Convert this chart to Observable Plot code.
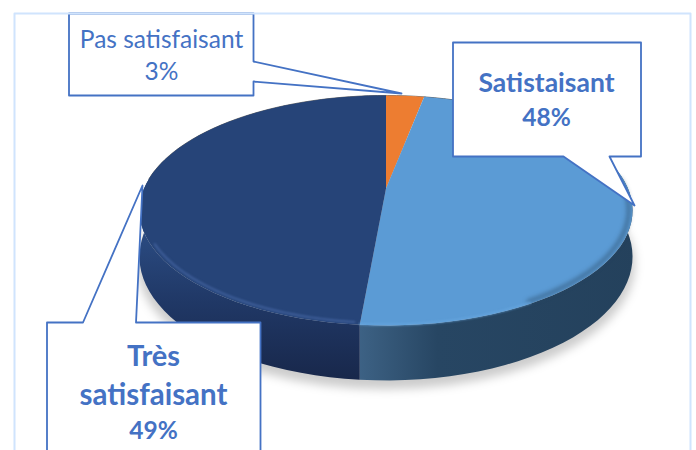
<!DOCTYPE html>
<html><head><meta charset="utf-8">
<script src="https://cdn.jsdelivr.net/npm/d3@7"></script>
<script src="https://cdn.jsdelivr.net/npm/@observablehq/plot@0.6"></script>
<style>html,body{margin:0;padding:0;background:#fff;overflow:hidden}svg{display:block}</style>
</head><body><div id="chart"></div>
<script>
// Data
const categories = ["Pas satisfaisant", "Satistaisant", "Très satisfaisant"];
const values = [3, 48.4, 48.6];
const percentLabels = ["3%", "48%", "49%"];
const sliceColors = ["#ed7d31", "#5b9bd5", "#264478"];

// Disc projection (perspective view of a circle)
const cx = 385.5, cy = 188, R = 242, S = 110.8, K = -0.191, DEPTH = 44.5;
const rim = (t, r = 1, depth = 0) => {
  const u = r * Math.sin(t), v = -r * Math.cos(t), w = 1 + K * v;
  return {x: cx + R * u / w, y: cy + (S * v + depth) / w};
};
const total = d3.sum(values);
const cumulative = d3.cumsum(values);
const angles = values.map((_, i) => [(i ? cumulative[i - 1] : 0) / total * 2 * Math.PI, cumulative[i] / total * 2 * Math.PI]);
const arc = ([a, b], r, depth) => d3.range(0, 61).map(i => rim(a + (b - a) * i / 60, r, depth));
const facePts = r => categories.flatMap((name, i) => [{...rim(0, 0), name}, ...arc(angles[i], r, 0).map(p => ({...p, name}))]);
const sidePts = i => [...arc(angles[i], 1, 0), ...arc(angles[i], 1, DEPTH).reverse()];
const ring = (depth, dy = 0) => arc([0, 2 * Math.PI], 1.01, depth).map(p => ({x: p.x, y: p.y + dy}));
const deg = d => d * Math.PI / 180;

// Callout layout
const callouts = [
  {name: "a", pts: [[68.5, 13], [253, 13], [253, 61], [401, 93], [253, 81], [253, 95], [68.5, 95]]},
  {name: "b", pts: [[452.5, 42], [640.5, 42], [640.5, 156], [609, 156], [634, 205], [563, 156], [452.5, 156]]},
  {name: "c", pts: [[46.5, 322], [82.5, 322], [142, 185], [135.5, 322], [260, 322], [260, 470], [46.5, 470]]}
];
const calloutPts = callouts.flatMap(c => c.pts.map(([x, y]) => ({x, y, name: c.name})));
const frame = [[14, 13], [690, 13], [690, 480], [14, 480]].map(([x, y]) => ({x, y}));
const regularRows = [
  {text: categories[0], x: 161, y: 47},
  {text: percentLabels[0], x: 161, y: 79}
];
const boldRows = [
  {text: categories[1], x: 546, y: 91, size: 26.5},
  {text: percentLabels[1], x: 546, y: 125, size: 24.5},
  {text: "Très", x: 153, y: 365, size: 29},
  {text: "satisfaisant", x: 153, y: 404, size: 29.5},
  {text: percentLabels[2], x: 153, y: 438, size: 24.5}
];

const defs = () => {
  const d = d3.create("svg:defs");
  const grad = (id, attrs, stops) => {
    const g = d.append("linearGradient").attr("id", id).attr("gradientUnits", "userSpaceOnUse");
    Object.entries(attrs).forEach(([k, v]) => g.attr(k, v));
    stops.forEach(([o, c]) => g.append("stop").attr("offset", o).attr("stop-color", c));
  };
  grad("sideBlue", {x1: 358, x2: 640, y1: 0, y2: 0}, [[0, "#3d6285"], [0.08, "#375a7b"], [0.28, "#274663"], [1, "#24415c"]]);
  grad("sideNavy", {x1: 0, x2: 0, y1: 235, y2: 382}, [[0, "#2a4a80"], [0.45, "#203866"], [1, "#18274a"]]);
  return d.node();
};
const line = (data, o) => Plot.line(data, {x: "x", y: "y", curve: "linear-closed", ...o});
const open = (data, o) => Plot.line(data, {x: "x", y: "y", ...o});

const chart = Plot.plot({
  width: 696, height: 450, margin: 0,
  x: {domain: [0, 696], range: [0, 696], axis: null},
  y: {domain: [0, 450], range: [0, 450], axis: null},
  color: {domain: categories, range: sliceColors},
  marks: [
    defs,
    line(ring(DEPTH, 7), {fill: "#000", fillOpacity: 0.2, imageFilter: "blur(5px)"}),
    line(sidePts(1), {fill: "url(#sideBlue)"}),
    line(sidePts(2), {fill: "url(#sideNavy)"}),
    open(arc([deg(-85), deg(75)], 1, 0), {stroke: "#555", strokeWidth: 1, strokeOpacity: 0.8, imageFilter: "blur(0.6px)"}),
    line(facePts(1), {z: "name", fill: "name"}),
    open(arc([deg(85), deg(150)], 0.985, 0), {stroke: "#2a4a68", strokeWidth: 4, strokeOpacity: 0.55, imageFilter: "blur(2px)"}),
    open(arc([deg(150), angles[1][1]], 0.995, 0), {stroke: "#66a6e0", strokeWidth: 2, strokeOpacity: 0.8, imageFilter: "blur(1px)"}),
    open(arc([angles[2][0] + 0.02, angles[2][0] + 1.0], 0.985, 0), {stroke: "#40609c", strokeWidth: 2, imageFilter: "blur(1.2px)"}),
    line(calloutPts, {z: "name", fill: "white", stroke: "#4472c4", strokeWidth: 1.8}),
    Plot.text(regularRows, {x: "x", y: "y", text: "text", fontSize: 24.5, fontWeight: 400, fill: "#4472c4", textAnchor: "middle", lineAnchor: "bottom", fontFamily: "Lato"}),
    Plot.text(boldRows, {x: "x", y: "y", text: "text", fontSize: "size", fontWeight: 700, fill: "#4472c4", textAnchor: "middle", lineAnchor: "bottom", fontFamily: "Lato"}),
    line(frame, {stroke: "#d0e4fd", strokeWidth: 2})
  ]
});
document.getElementById("chart").append(chart);
</script></body></html>
